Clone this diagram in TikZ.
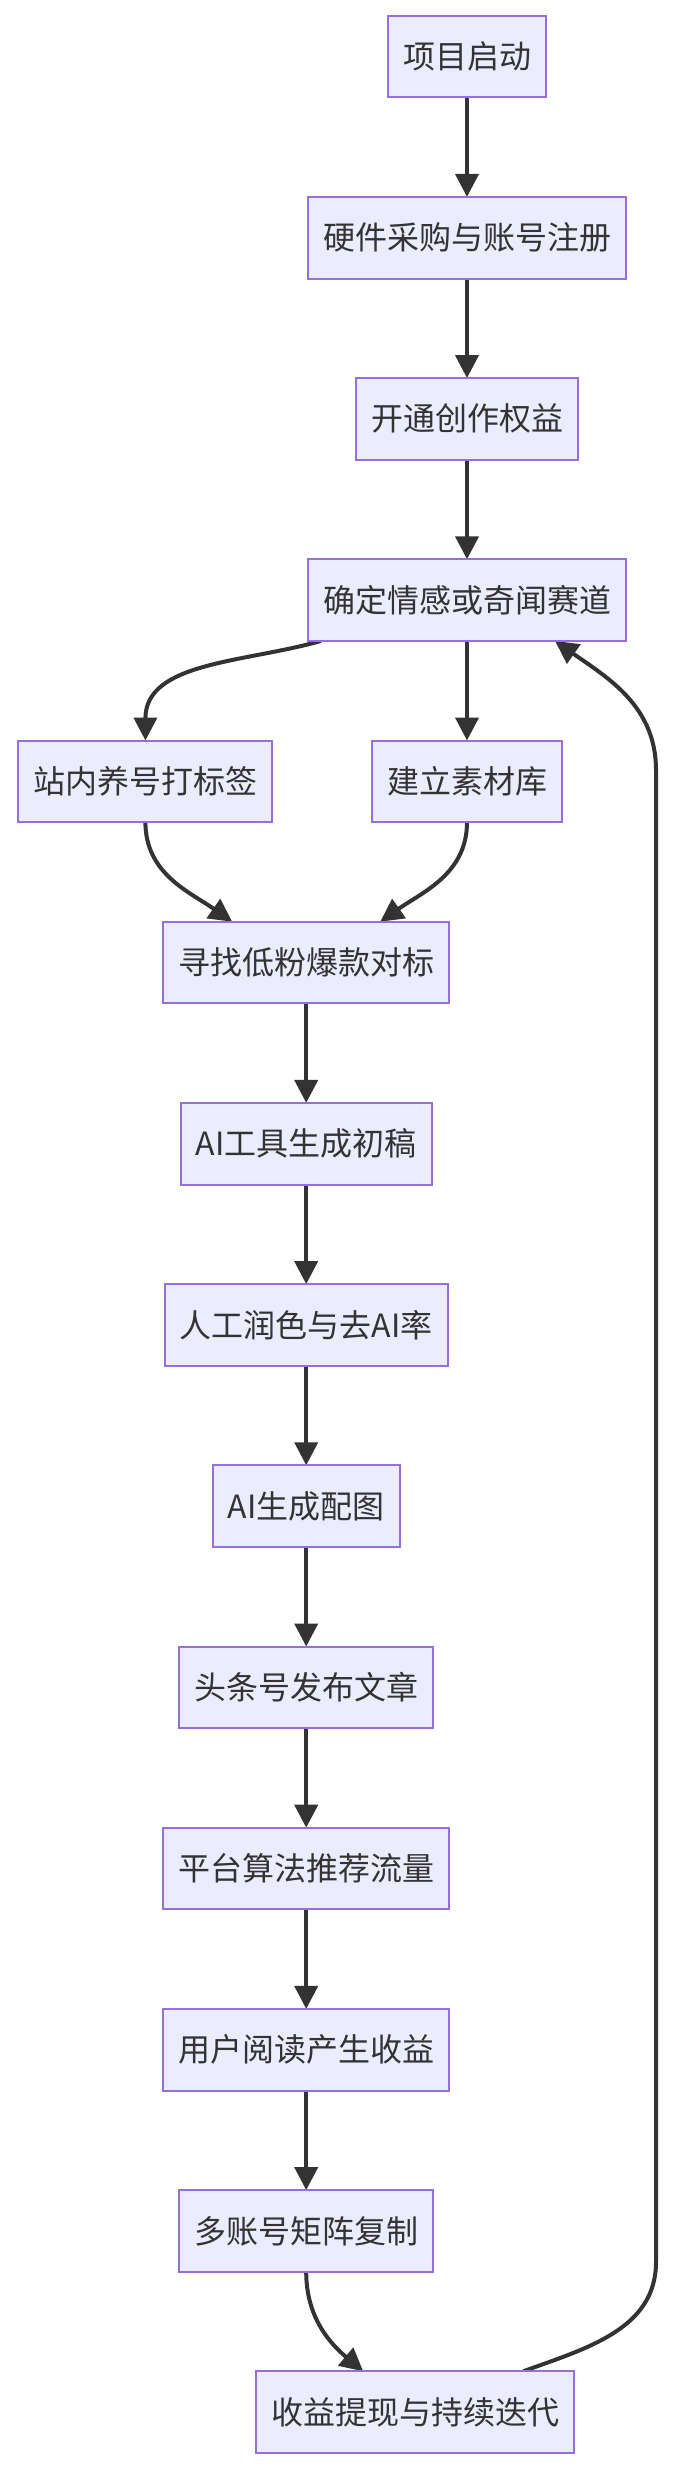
\documentclass[tikz,border=0pt]{standalone}
\usepackage{fontspec}
\setmainfont{Noto Sans CJK SC}
\usetikzlibrary{arrows.meta, positioning, calc, backgrounds}
\definecolor{boxfill}{HTML}{ECECFF}
\definecolor{boxline}{HTML}{9370DB}
\definecolor{edgeline}{HTML}{333333}

\begin{document}
\begin{tikzpicture}[
    x=1pt, y=1pt,
    node distance=99.6pt and 99.6pt,
    process/.style = {rectangle, draw=boxline, fill=boxfill, line width=2pt, outer sep=0pt, inner xsep=15pt, inner ysep=0pt, minimum height=81.6pt, text=edgeline, font=\fontsize{32pt}{38pt}\selectfont},
    flow/.style = {draw=edgeline, line width=4pt},
    >={Triangle[length=23pt, width=23pt]}]

    \useasboundingbox (0,0) rectangle (672,-2470);

    \node[process] (start) at (467,-56.5) {项目启动};
    \node[process, below=of start] (hardware) {硬件采购与账号注册};
    \node[process, below=of hardware] (rights) {开通创作权益};
    \node[process, below=of rights] (niche) {确定情感或奇闻赛道};
    \node[process, below=of niche] (library) {建立素材库};
    \node[process, left=of library] (tagging) {站内养号打标签};
    \coordinate (mid) at ($(tagging.south)!0.5!(library.south)$);
    \node[process, below=of mid] (benchmark) {寻找低粉爆款对标};
    \node[process, below=of benchmark] (draft) {AI工具生成初稿};
    \node[process, below=of draft] (polish) {人工润色与去AI率};
    \node[process, below=of polish] (images) {AI生成配图};
    \node[process, below=of images] (publish) {头条号发布文章};
    \node[process, below=of publish] (traffic) {平台算法推荐流量};
    \node[process, below=of traffic] (income) {用户阅读产生收益};
    \node[process, below=of income] (matrix) {多账号矩阵复制};
    \node[process, below=of matrix, xshift=109pt] (payout) {收益提现与持续迭代};

    \coordinate (loopbot) at (656,-2262);
    \coordinate (looptop) at (656,-770);

    \begin{scope}[on background layer]
    \draw[flow, ->] (start) -- (hardware);
    \draw[flow, ->] (hardware) -- (rights);
    \draw[flow, ->] (rights) -- (niche);
    \draw[flow, ->] ($(niche.south west)+(13,0)$) to[out=-164, in=90] (tagging.north);
    \draw[flow, ->] (niche) -- (library);
    \draw[flow, ->] (tagging.south) to[out=-90, in=145] ($(benchmark.north)+(-74,0)$);
    \draw[flow, ->] (library.south) to[out=-90, in=35] ($(benchmark.north)+(74,0)$);
    \draw[flow, ->] (benchmark) -- (draft);
    \draw[flow, ->] (draft) -- (polish);
    \draw[flow, ->] (polish) -- (images);
    \draw[flow, ->] (images) -- (publish);
    \draw[flow, ->] (publish) -- (traffic);
    \draw[flow, ->] (traffic) -- (income);
    \draw[flow, ->] (income) -- (matrix);
    \draw[flow, ->] (matrix.south) to[out=-90, in=140] ($(payout.north)+(-52,0)$);
    \draw[flow, ->] ($(payout.north)+(108,0)$) to[out=20, in=-90] (loopbot) -- (looptop) to[out=90, in=-35] ($(niche.south)+(88,0)$);
    \end{scope}
\end{tikzpicture}
\end{document}
